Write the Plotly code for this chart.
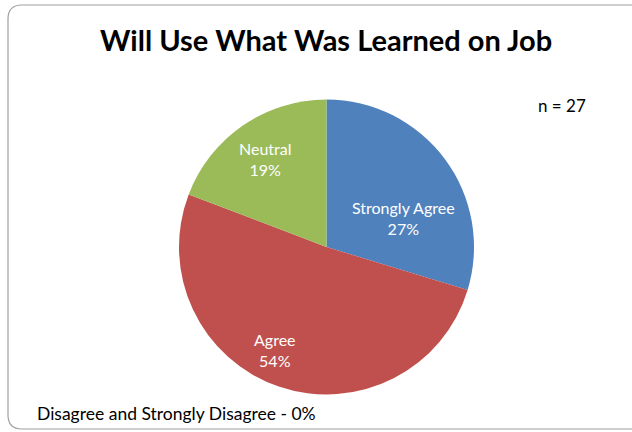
import plotly.graph_objects as go
import math

categories = ["Strongly Agree", "Agree", "Neutral"]
# slice shares as drawn in the picture (measured from slice angles)
slice_shares = [29.7, 51.1, 19.2]
# percentages printed on the labels
label_pcts = [27, 54, 19]
colors = ["#4F81BD", "#C0504D", "#9BBB59"]
title_text = "Will Use What Was Learned on Job"
n_text = "n = 27"
note_text = "Disagree and Strongly Disagree - 0%"

W, H = 632, 432
FONT = "Lato, 'Open Sans', sans-serif"

# pie geometry (pixels)
CX, CY, R = 326.5, 247, 147.5
# label placement: (angle offset from slice mid-angle in degrees, radius fraction)
label_place = [(15.8, 0.555), (7.7, 0.78), (0.0, 0.724)]

fig = go.Figure(go.Pie(
    labels=categories,
    values=slice_shares,
    customdata=label_pcts,
    sort=False,
    direction="clockwise",
    rotation=0,
    marker=dict(colors=colors, line=dict(width=0)),
    textinfo="none",
    hovertemplate="%{label}: %{customdata}%<extra></extra>",
    showlegend=False,
    domain=dict(x=[(CX - R) / W, (CX + R) / W], y=[1 - (CY + R) / H, 1 - (CY - R) / H]),
))

annotations = []
total = sum(slice_shares)
cum = 0
for cat, share, pct, (doff, rf) in zip(categories, slice_shares, label_pcts, label_place):
    mid = (cum + share / 2) / total * 360 + doff
    cum += share
    lx = CX + rf * R * math.sin(math.radians(mid))
    ly = CY - rf * R * math.cos(math.radians(mid))
    annotations.append(dict(
        text=f"{cat}<br>{pct}%", x=lx / W, y=1 - ly / H, xref="paper", yref="paper",
        xanchor="center", yanchor="middle", showarrow=False,
        font=dict(family=FONT, size=16, color="white")))

# rounded border path (right edge runs off the picture)
x0, y0, x1, y1, r = 8, 5, 645, 429, 14
def px(x):
    return x / W
def py(y):
    return 1 - y / H
path = (f"M {px(x0 + r)},{py(y0)} L {px(x1 - r)},{py(y0)} "
        f"Q {px(x1)},{py(y0)} {px(x1)},{py(y0 + r)} "
        f"L {px(x1)},{py(y1 - r)} Q {px(x1)},{py(y1)} {px(x1 - r)},{py(y1)} "
        f"L {px(x0 + r)},{py(y1)} Q {px(x0)},{py(y1)} {px(x0)},{py(y1 - r)} "
        f"L {px(x0)},{py(y0 + r)} Q {px(x0)},{py(y0)} {px(x0 + r)},{py(y0)} Z")

annotations += [
    dict(text=f"<b>{title_text}</b>", x=326 / W, y=1 - 40 / H, xref="paper", yref="paper",
         xanchor="center", yanchor="middle", showarrow=False,
         font=dict(family=FONT, size=29, color="black")),
    dict(text=n_text, x=562 / W, y=1 - 105 / H, xref="paper", yref="paper",
         xanchor="center", yanchor="middle", showarrow=False,
         font=dict(family=FONT, size=17, color="black")),
    dict(text=note_text, x=35 / W, y=1 - 413 / H, xref="paper", yref="paper",
         xanchor="left", yanchor="middle", showarrow=False,
         font=dict(family=FONT, size=17.5, color="black")),
]

fig.update_layout(
    width=W, height=H,
    margin=dict(l=0, r=0, t=0, b=0),
    paper_bgcolor="white",
    plot_bgcolor="white",
    shapes=[dict(type="path", xref="paper", yref="paper", path=path,
                 line=dict(color="#a0a0a0", width=1.2))],
    annotations=annotations,
)

fig.write_html("out.html")
